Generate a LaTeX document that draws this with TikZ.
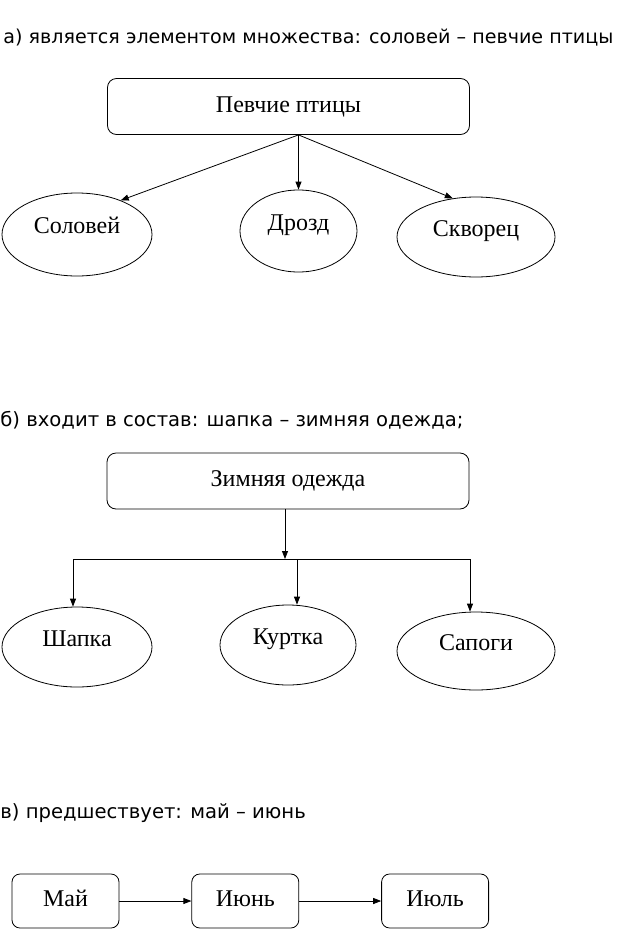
\documentclass[tikz,border=0pt]{standalone}
\usepackage{fontspec}
\setmainfont{Liberation Serif}
\newfontfamily\headfont{DejaVu Sans}
\usetikzlibrary{arrows.meta,shapes.geometric,positioning}

\begin{document}
\begin{tikzpicture}[x=1pt,y=-1pt,line width=0.8pt,
    >={Triangle[length=8pt,width=6pt]},
    head/.style={anchor=west,inner sep=0pt,font=\headfont\fontsize{19.6}{23}\selectfont},
    group/.style={draw,rounded corners=9pt,minimum width=362pt,minimum height=56pt,
        font=\fontsize{24}{28}\selectfont},
    month/.style={draw,rounded corners=8pt,minimum width=107pt,minimum height=54pt,
        text height=15pt,text depth=5pt,font=\fontsize{24}{28}\selectfont},
    item/.style={draw,ellipse,inner sep=0pt,text height=14pt,text depth=16pt,
        font=\fontsize{24}{28}\selectfont}]
    \useasboundingbox (0,0) rectangle (622,929);

    % а) element of a set
    \node[head,font=\headfont\fontsize{19.1}{23}\selectfont] (titleA) at (3,38)
        {а) является элементом множества: соловей – певчие птицы};
    \node[group] (birds) at (288.5,106.5) {Певчие птицы};
    \node[item,minimum width=150pt,minimum height=83pt] (solovey) at (77,234.5) {Соловей};
    \node[item,minimum width=117pt,minimum height=82pt] (drozd) at (298.5,231) {Дрозд};
    \node[item,minimum width=158pt,minimum height=80pt] (skvorets) at (476,237) {Скворец};
    \coordinate (forkA) at (birds.south -| drozd.north);
    \draw[->] (forkA) -- (solovey.38);
    \draw[->] (forkA) -- (drozd);
    \draw[->] (forkA) -- (skvorets.121);

    % б) part of
    \node[head] (titleB) at (0,420) {б) входит в состав: шапка – зимняя одежда;};
    \node[group] (winter) at (288,481) {Зимняя одежда};
    \node[item,minimum width=150pt,minimum height=80pt] (hat) at (77,647) {Шапка};
    \node[item,minimum width=136pt,minimum height=80pt] (jacket) at (288,645) {Куртка};
    \node[item,minimum width=158pt,minimum height=78pt] (boots) at (476,651) {Сапоги};
    \coordinate (forkB) at (285,559);
    \coordinate (hatIn) at (73,559);
    \coordinate (jacketIn) at (297,559);
    \coordinate (bootsIn) at (470,559);
    \draw[->] (winter.south -| forkB) -- (forkB);
    \draw (hatIn) -- (bootsIn);
    \draw[->] (hatIn) -- (hatIn |- hat.north);
    \draw[->] (jacketIn) -- (jacketIn |- jacket.north);
    \draw[->] (bootsIn) -- (bootsIn |- boots.north);

    % в) precedes
    \node[head] (titleC) at (0,813) {в) предшествует: май – июнь};
    \node[month] (may) at (65.5,901) {Май};
    \node[month,right=72pt of may] (june) {Июнь};
    \node[month,right=82pt of june] (july) {Июль};
    \draw[->] (may) -- (june);
    \draw[->] (june) -- (july);
\end{tikzpicture}
\end{document}
